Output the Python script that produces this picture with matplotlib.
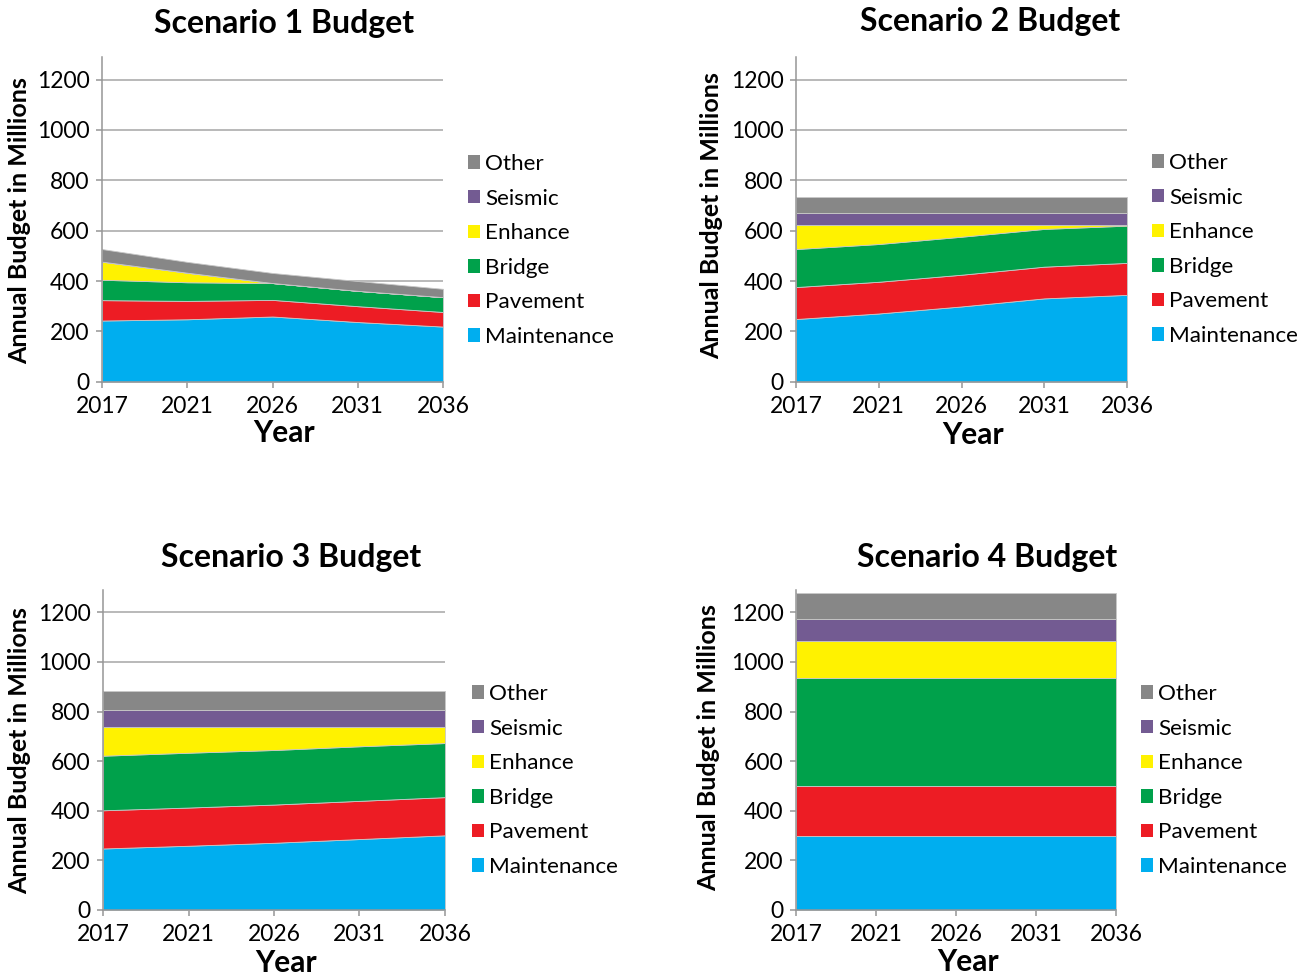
import matplotlib
matplotlib.use("Agg")
import matplotlib.pyplot as plt
from matplotlib.patches import Patch

plt.rcParams["font.family"] = ["Lato", "DejaVu Sans"]

years = ["2017", "2021", "2026", "2031", "2036"]
categories = ["Maintenance", "Pavement", "Bridge", "Enhance", "Seismic", "Other"]
colors = ["#00AEEF", "#ED1C24", "#00A14B", "#FFF200", "#735B92", "#878787"]

# 各情景预算（百万），从下往上堆叠
s1_maintenance = [243, 248, 259, 237, 219]
s1_pavement = [81, 73, 66, 63, 58]
s1_bridge = [81, 74, 67, 61, 59]
s1_enhance = [72, 38, 0, 0, 0]
s1_seismic = [0, 0, 0, 0, 0]
s1_other = [50, 43, 40, 39, 33]

s2_maintenance = [249, 271, 299, 331, 345]
s2_pavement = [127, 126, 126, 126, 127]
s2_bridge = [151, 150, 151, 150, 148]
s2_enhance = [96, 76, 47, 16, 3]
s2_seismic = [49, 49, 49, 49, 49]
s2_other = [63, 63, 63, 63, 63]

s3_maintenance = [248, 259, 271, 286, 301]
s3_pavement = [154, 154, 154, 154, 154]
s3_bridge = [220, 221, 220, 220, 218]
s3_enhance = [116, 104, 93, 78, 65]
s3_seismic = [69, 69, 69, 69, 69]
s3_other = [77, 77, 77, 77, 77]

s4_maintenance = [300, 300, 300, 300, 300]
s4_pavement = [200, 200, 200, 200, 200]
s4_bridge = [435, 435, 435, 435, 435]
s4_enhance = [150, 150, 150, 150, 150]
s4_seismic = [88, 88, 88, 88, 88]
s4_other = [103, 103, 103, 103, 103]

W, H = 1304, 976
fig = plt.figure(figsize=(W / 100, H / 100), dpi=100)
AX_GRAY = "#969696"


def rect(left, right, top, bottom):
    return [left / W, 1 - bottom / H, (right - left) / W, (bottom - top) / H]


def panel(box, series, title, title_xy, ylab_xy, year_xy, leg_xy):
    ax = fig.add_axes(rect(*box))
    x = list(range(len(years)))
    ax.stackplot(x, *series, colors=colors, edgecolor="#c8c8c8", linewidth=0.6)
    ax.set_xlim(0, len(years) - 1)
    ax.set_ylim(0, 1290)
    ax.set_xticks(x)
    ax.set_xticklabels(years)
    ax.set_yticks(range(0, 1201, 200))
    ax.set_axisbelow(True)
    ax.grid(axis="y", color="#a6a6a6", linewidth=1.1)
    for s in ("top", "right"):
        ax.spines[s].set_visible(False)
    for s in ("left", "bottom"):
        ax.spines[s].set_color(AX_GRAY)
        ax.spines[s].set_linewidth(1.1)
    ax.tick_params(direction="out", length=4, width=1.1, color=AX_GRAY,
                   labelsize=16.5, pad=5)
    ax.tick_params(axis="x", pad=6)

    fig.text(title_xy[0] / W, 1 - title_xy[1] / H, title, ha="center",
             va="center", fontsize=23, fontweight="bold")
    fig.text(ylab_xy[0] / W, 1 - ylab_xy[1] / H, "Annual Budget in Millions",
             ha="center", va="center", rotation=90, fontsize=18, fontweight="bold")
    fig.text(year_xy[0] / W, 1 - year_xy[1] / H, "Year", ha="center",
             va="center", fontsize=21.5, fontweight="bold")

    handles = [Patch(facecolor=c, edgecolor="none", label=n)
               for n, c in zip(categories, colors)][::-1]
    ax.legend(handles=handles, loc="upper left",
              bbox_to_anchor=(leg_xy[0] / W, 1 - leg_xy[1] / H),
              bbox_transform=fig.transFigure, frameon=False, fontsize=16.2,
              handlelength=0.55, handleheight=0.55, handletextpad=0.2,
              labelspacing=0.65, borderpad=0, borderaxespad=0)
    return ax


panel((102, 443, 57, 381.7),
      [s1_maintenance, s1_pavement, s1_bridge, s1_enhance, s1_seismic, s1_other],
      "Scenario 1 Budget", (284, 24), (20, 221), (284, 433), (468, 154))
panel((796, 1127, 57, 381.7),
      [s2_maintenance, s2_pavement, s2_bridge, s2_enhance, s2_seismic, s2_other],
      "Scenario 2 Budget", (990, 22), (712, 216), (973, 435), (1152, 153))
panel((103, 445, 590, 910),
      [s3_maintenance, s3_pavement, s3_bridge, s3_enhance, s3_seismic, s3_other],
      "Scenario 3 Budget", (291, 557), (20, 751), (286, 963), (472, 684))
panel((796, 1116, 590, 910),
      [s4_maintenance, s4_pavement, s4_bridge, s4_enhance, s4_seismic, s4_other],
      "Scenario 4 Budget", (987, 557), (709, 748), (968, 962), (1141, 684))

fig.savefig("out.png", dpi=100)
